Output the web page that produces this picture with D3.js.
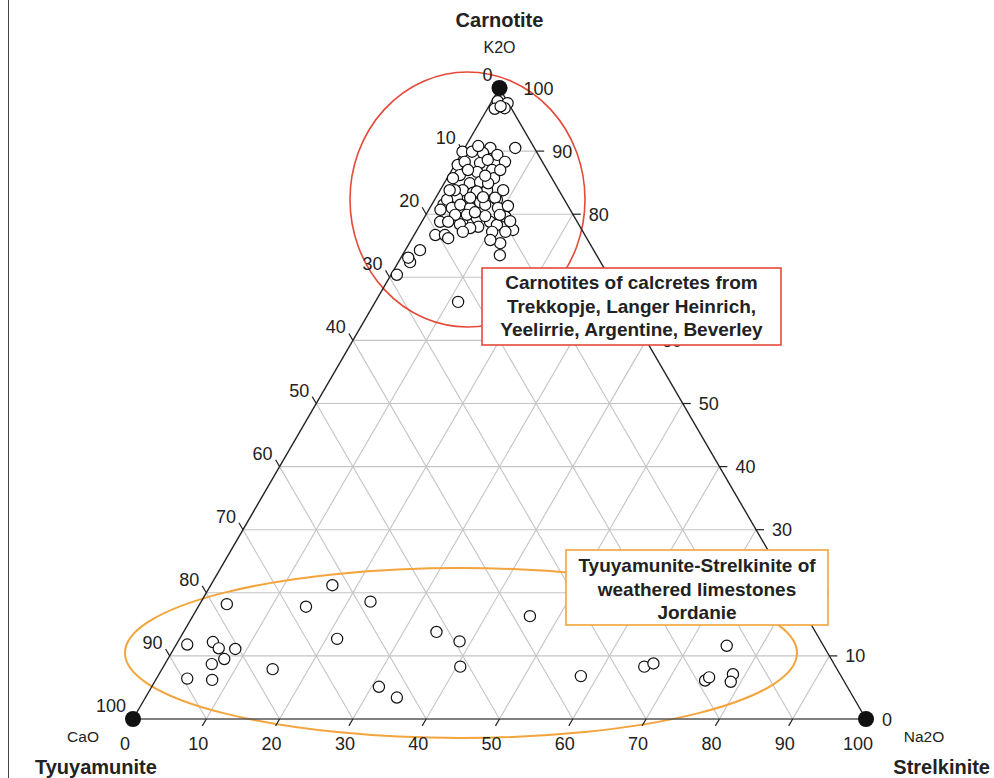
<!DOCTYPE html>
<html><head><meta charset="utf-8">
<script src="https://cdn.jsdelivr.net/npm/d3@7"></script>
<style>body{margin:0;background:#fff}svg{display:block}text{font-family:"Liberation Sans",Arial,sans-serif}</style>
</head><body><svg id="c" width="994" height="778"></svg>
<script>
// Data: [K2O, CaO, Na2O] percentages
const carnotite = [
[97.9,1.3,0.8],[97.6,0.1,2.3],[96.7,2.3,1.0],[96.8,0.9,2.3],[97.1,1.3,1.6],
[89.9,10.1,0],[90.5,2.6,6.9],[90.5,6.0,3.5],[89.7,7.4,2.9],[89.4,5.6,5.0],
[87.8,11.8,0.4],[88.1,8.6,3.3],[88.6,7.3,4.1],[88.3,5.1,6.6],[86.2,12.3,1.5],
[86.7,9.7,3.6],[87.0,7.5,5.5],[84.9,11.6,3.5],[85.1,10.1,4.8],[83.8,13.1,3.1],
[83.4,11.9,4.7],[83.8,9.8,6.4],[82.6,14.5,2.9],[82.3,9.2,8.5],[81.9,11.7,6.4],
[81.5,16.9,1.6],[81.5,13.7,4.8],[83.8,14.2,2.0],[83.6,11.3,5.1],[82.6,9.3,8.1],
[82.3,16.0,1.7],[80.7,17.7,1.6],[81.0,16.0,3.0],[81.5,14.6,3.9],[81.0,13.5,5.5],
[81.5,11.2,7.3],[81.0,9.7,9.3],[79.6,9.4,11.0],[78.8,18.7,2.5],[78.8,15.7,5.5],
[79.4,13.4,7.2],[78.8,11.9,9.3],[78.3,11.2,10.5],[77.5,9.4,13.1],[76.7,20.4,2.9],
[76.7,19.1,4.2],[76.2,18.9,4.9],[78.0,13.9,8.1],[79.9,14.5,5.6],[75.4,12.2,12.4],
[73.5,13.2,13.3],[74.3,23.7,2.0],[72.4,26.0,1.6],[73.1,25.9,1.0],[70.4,28.8,0.8],
[66.1,22.6,11.3],[78.4,16.2,5.4],[89.9,8.8,1.3],[85.7,7.9,6.4],[83.8,7.6,8.6],
[81.3,8.2,10.5],[78.9,9.1,12.0],[79.7,12.1,8.2],[82.6,12.7,4.7],[84.9,9.1,6.0],
[88.3,10.6,1.1],[77.2,10.6,12.2],[77.2,12.4,10.4],[77.8,15.1,7.1],[82.7,10.9,6.4],
[85.7,13.5,0.8],[83.8,14.9,1.3],[87.0,10.8,2.2],[86.1,8.9,5.0],[80.3,13.2,6.5],
[79.9,16.1,4.0],[79.9,10.0,10.1],[75.9,13.3,10.8],[77.2,16.4,6.4],[90.8,7.5,1.7],
[87.0,6.4,6.6],[78.8,17.6,3.6]
];
const jordanie = [
[21.2,62.2,16.6],[18.2,78.1,3.7],[17.8,67.5,14.7],[18.6,58.3,23.1],[11.8,86.7,1.5],
[12.2,83.0,4.8],[11.2,82.7,6.1],[11.1,80.5,8.4],[9.5,82.8,7.7],[8.7,84.9,6.4],
[6.4,89.4,4.2],[6.2,86.1,7.7],[12.7,65.8,21.5],[7.9,77.0,15.1],[16.3,37.7,46.0],
[13.8,51.7,34.5],[12.3,49.3,38.4],[8.3,51.2,40.5],[5.1,63.9,31.0],[3.4,62.3,34.3],
[6.8,35.5,57.7],[8.3,26.1,65.6],[8.8,24.6,66.6],[11.6,13.2,75.2],[6.1,18.9,75.0],
[6.6,18.1,75.3],[7.1,14.6,78.3],[5.9,15.5,78.6]
];
const endMembers = [[100,0,0],[0,100,0],[0,0,100]];
const ticks = [0,10,20,30,40,50,60,70,80,90,100];
const rightHidden = [70]; // right-axis label fully covered by the annotation box
const vertexOxides = ["K2O","CaO","Na2O"];
const vertexMinerals = ["Carnotite","Tyuyamunite","Strelkinite"];
const boxCarnotite = ["Carnotites of calcretes from","Trekkopje, Langer Heinrich,","Yeelirrie, Argentine, Beverley"];
const boxJordanie = ["Tyuyamunite-Strelkinite of","weathered limestones","Jordanie"];

const svg = d3.select("#c");
const yS = d3.scaleLinear().domain([0,100]).range([719,88]);   // K2O
const xS = d3.scaleLinear().domain([0,100]).range([133,866]);  // Na2O + K2O/2
function P(k,c,n){ return [xS(n + k/2), yS(k)]; }

// left border
svg.append("line").attr("x1",8.5).attr("x2",8.5).attr("y1",0).attr("y2",778).attr("stroke","#444").attr("stroke-width",1);

// grid
const g = svg.append("g").attr("stroke","#c4c4c4").attr("stroke-width",1.1).attr("fill","none");
ticks.slice(1,-1).forEach(t=>{
  let a=P(t,100-t,0), b=P(t,0,100-t);
  g.append("line").attr("x1",a[0]).attr("y1",a[1]).attr("x2",b[0]).attr("y2",b[1]);
  a=P(100-t,t,0); b=P(0,t,100-t);
  g.append("line").attr("x1",a[0]).attr("y1",a[1]).attr("x2",b[0]).attr("y2",b[1]);
  a=P(100-t,0,t); b=P(0,100-t,t);
  g.append("line").attr("x1",a[0]).attr("y1",a[1]).attr("x2",b[0]).attr("y2",b[1]);
});

// ellipses
svg.append("ellipse").attr("cx",467.5).attr("cy",199.5).attr("rx",117.5).attr("ry",127.5)
  .attr("fill","none").attr("stroke","#e5493a").attr("stroke-width",1.6);
svg.append("ellipse").attr("cx",461).attr("cy",653).attr("rx",336).attr("ry",85)
  .attr("fill","none").attr("stroke","#f3a43c").attr("stroke-width",2);

// triangle edges
const V = endMembers.map(d=>P(...d));
svg.append("line").attr("x1",V[0][0]).attr("y1",V[0][1]).attr("x2",V[1][0]).attr("y2",V[1][1]).attr("stroke","#222").attr("stroke-width",1.4);
svg.append("line").attr("x1",V[0][0]).attr("y1",V[0][1]).attr("x2",V[2][0]).attr("y2",V[2][1]).attr("stroke","#222").attr("stroke-width",1.4);
svg.append("line").attr("x1",V[1][0]).attr("y1",V[1][1]).attr("x2",V[2][0]).attr("y2",V[2][1]).attr("stroke","#555").attr("stroke-width",1.6);

// ticks & labels
const tl = 8, ux = 0.502, uy = 0.865;
const ax = svg.append("g").attr("stroke","#222").attr("stroke-width",1.2);
const lab = svg.append("g").attr("font-size",18).attr("fill","#222");
ticks.forEach(t=>{
  let p=P(t,0,100-t);
  ax.append("line").attr("x1",p[0]).attr("y1",p[1]).attr("x2",p[0]+tl).attr("y2",p[1]);
  if(!rightHidden.includes(t)) lab.append("text").attr("x",p[0]+(t===100?24:16)).attr("y",p[1]+6.5).text(t);
  p=P(100-t,t,0);
  let e=[p[0]-tl*ux,p[1]-tl*uy];
  ax.append("line").attr("x1",p[0]).attr("y1",p[1]).attr("x2",e[0]).attr("y2",e[1]);
  lab.append("text").attr("x",e[0]-3).attr("y",e[1]).attr("text-anchor","end").text(t);
  p=P(0,100-t,t);
  e=[p[0]-tl*ux,p[1]+tl*uy];
  ax.append("line").attr("x1",p[0]).attr("y1",p[1]).attr("x2",e[0]).attr("y2",e[1]);
  lab.append("text").attr("x",p[0]-8).attr("y",750).attr("text-anchor","middle").text(t);
});

// points
const pts = svg.append("g").attr("fill","#fff").attr("stroke","#111").attr("stroke-width",1.2);
carnotite.concat(jordanie).forEach(d=>{
  const p=P(...d);
  pts.append("circle").attr("cx",p[0]).attr("cy",p[1]).attr("r",5.6);
});
svg.append("g").selectAll("circle").data(endMembers).join("circle")
  .attr("cx",d=>P(...d)[0]).attr("cy",d=>P(...d)[1]).attr("r",8).attr("fill","#111");

// vertex labels
const vl = svg.append("g").attr("fill","#222");
vl.append("text").attr("x",V[0][0]).attr("y",53).attr("text-anchor","middle").attr("font-size",16).text(vertexOxides[0]);
vl.append("text").attr("x",V[0][0]).attr("y",27).attr("text-anchor","middle").attr("font-size",20).attr("font-weight","bold").text(vertexMinerals[0]);
vl.append("text").attr("x",83).attr("y",742).attr("text-anchor","middle").attr("font-size",15.5).text(vertexOxides[1]);
vl.append("text").attr("x",35).attr("y",774).attr("font-size",20).attr("font-weight","bold").text(vertexMinerals[1]);
vl.append("text").attr("x",924).attr("y",742).attr("text-anchor","middle").attr("font-size",15.5).text(vertexOxides[2]);
vl.append("text").attr("x",990).attr("y",774).attr("text-anchor","end").attr("font-size",20).attr("font-weight","bold").text(vertexMinerals[2]);

// annotation boxes
function box(x,y,w,h,color,lines,y0,dy){
  svg.append("rect").attr("x",x).attr("y",y).attr("width",w).attr("height",h).attr("fill","#fff").attr("stroke",color).attr("stroke-width",1.6);
  const t=svg.append("text").attr("font-size",19).attr("font-weight","bold").attr("fill","#222").attr("text-anchor","middle");
  lines.forEach((s,i)=>t.append("tspan").attr("x",x+w/2).attr("y",y0+i*dy).text(s));
}
box(482,268,299,77,"#e5493a",boxCarnotite,289,23.5);
box(566,550,262,75,"#f3a43c",boxJordanie,572,23.5);
</script></body></html>
